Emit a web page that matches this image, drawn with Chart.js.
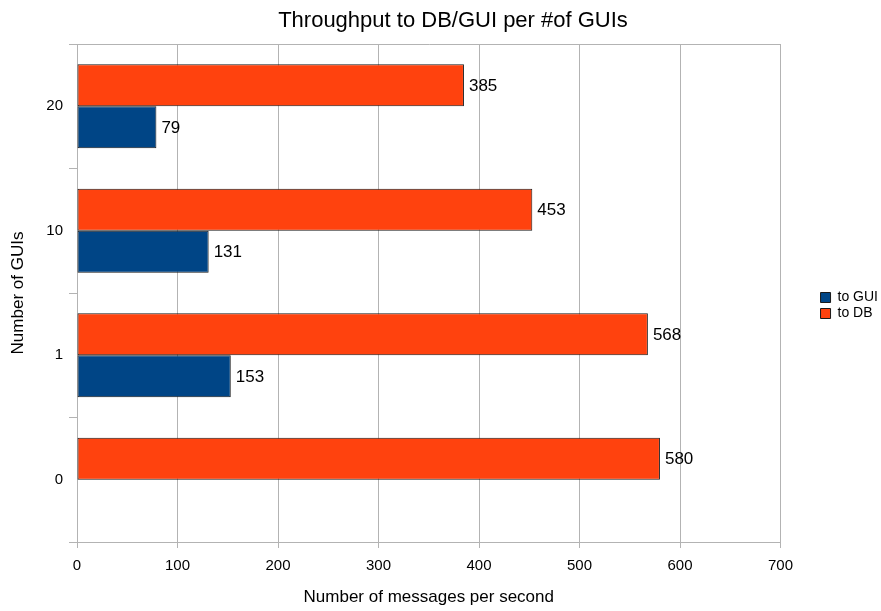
<!DOCTYPE html>
<html>
<head>
<meta charset="utf-8">
<title>Throughput to DB/GUI per #of GUIs</title>
<script src="https://cdn.jsdelivr.net/npm/chart.js@4"></script>
<style>
  html, body { margin: 0; padding: 0; background: #fff; }
  #wrap { width: 881px; height: 611px; position: relative; }
</style>
</head>
<body>
<div id="wrap"><canvas id="chart"></canvas></div>
<script>
// Number of GUIs, listed top to bottom
const guiCounts = ['20', '10', '1', '0'];
// Messages per second
const toDB = [385, 453, 568, 580];
const toGUI = [79, 131, 153, null];

const xTicksMax = 700;
const xTicksStep = 100;

const AXIS_GREY = '#b3b3b3';
const FONT = '"Liberation Sans", Arial, sans-serif';
Chart.defaults.font.family = FONT;
Chart.defaults.color = '#000';

// Writes the value just past the end of every bar
const valueLabels = {
  id: 'valueLabels',
  afterDatasetsDraw(chart) {
    const ctx = chart.ctx;
    ctx.save();
    ctx.font = '17px ' + FONT;
    ctx.fillStyle = '#000';
    ctx.textBaseline = 'middle';
    ctx.textAlign = 'left';
    chart.data.datasets.forEach((ds, i) => {
      chart.getDatasetMeta(i).data.forEach((bar, j) => {
        const v = ds.data[j];
        if (v == null) return;
        ctx.fillText(String(v), bar.x + 5, bar.y + 1);
      });
    });
    ctx.restore();
  }
};

// Nudge the legend away from the plot and the title a bit to the right
const boxShift = {
  id: 'boxShift',
  afterLayout(chart) {
    const lg = chart.legend;
    if (lg) { lg.left += 38; lg.right += 38; }
    const tb = chart.titleBlock;
    if (tb) { tb.left += 28; tb.right += 28; }
  }
};

new Chart(document.getElementById('chart'), {
  type: 'bar',
  data: {
    labels: guiCounts,
    datasets: [
      {
        label: 'to DB',
        data: toDB,
        backgroundColor: '#ff420e',
        borderColor: '#1a1a1a',
        borderWidth: 1,
        borderSkipped: false
      },
      {
        label: 'to GUI',
        data: toGUI,
        backgroundColor: '#004586',
        borderColor: '#1a1a1a',
        borderWidth: 1,
        borderSkipped: false
      }
    ]
  },
  options: {
    indexAxis: 'y',
    responsive: true,
    maintainAspectRatio: false,
    animation: false,
    categoryPercentage: 0.675,
    barPercentage: 1,
    layout: { padding: { top: 0, right: 31, bottom: 0, left: 0 } },
    scales: {
      x: {
        min: 0,
        max: xTicksMax,
        ticks: { stepSize: xTicksStep, font: { size: 15 }, padding: 9, color: '#000' },
        grid: { color: AXIS_GREY, tickLength: 6 },
        border: { color: AXIS_GREY },
        title: {
          display: true,
          text: 'Number of messages per second',
          font: { size: 17 },
          padding: { top: 0, bottom: 3 }
        },
        afterFit(scale) { scale.height = 69; }
      },
      y: {
        ticks: { font: { size: 15 }, padding: 6, color: '#000' },
        grid: {
          offset: true,
          tickLength: 8,
          tickColor: AXIS_GREY,
          // only the top edge of the plot gets a full-width line
          color: c => c.index === 0 ? AXIS_GREY : 'rgba(0,0,0,0)'
        },
        border: { color: AXIS_GREY },
        title: {
          display: true,
          text: 'Number of GUIs',
          font: { size: 17 },
          padding: { top: 8, bottom: 0 }
        },
        afterFit(scale) { scale.width = 77; }
      }
    },
    plugins: {
      title: {
        display: true,
        text: 'Throughput to DB/GUI per #of GUIs',
        font: { size: 22, weight: 'normal' },
        color: '#000',
        padding: { top: 8, bottom: 9.6 }
      },
      legend: {
        position: 'right',
        reverse: true,
        labels: {
          boxWidth: 10,
          boxHeight: 10,
          font: { size: 14 },
          padding: 2,
          color: '#000'
        }
      },
      tooltip: { enabled: false }
    }
  },
  plugins: [valueLabels, boxShift]
});
</script>
</body>
</html>
